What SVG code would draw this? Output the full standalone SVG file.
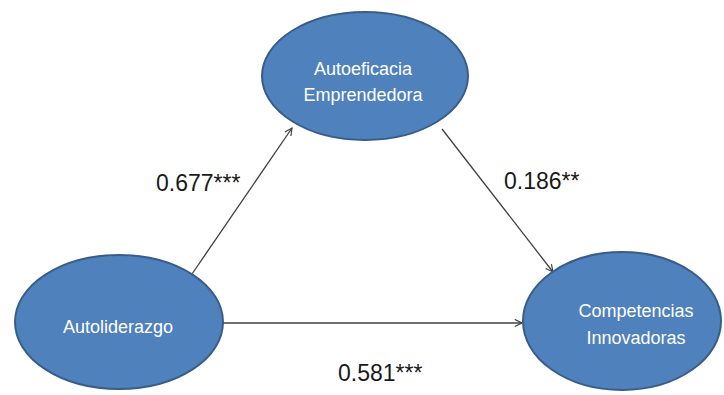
<svg xmlns="http://www.w3.org/2000/svg" width="724" height="395" viewBox="0 0 724 395">
<defs>
<style>
.node{fill:#4f81bd;stroke:#385d8a;stroke-width:2}
.nt{fill:#ffffff;font-family:"Liberation Sans",Arial,sans-serif;font-size:18px;text-anchor:middle}
.lbl{fill:#1a1a1a;font-family:"Liberation Sans",Arial,sans-serif;font-size:23px}
.edge{stroke:#404040;stroke-width:1.3;fill:none;marker-end:url(#arr)}
</style>
<marker id="arr" viewBox="0 0 10 10" refX="9" refY="5" markerWidth="9" markerHeight="9" markerUnits="userSpaceOnUse" orient="auto">
<path d="M1,1 L9,5 L1,9" fill="none" stroke="#404040" stroke-width="1.3"/>
</marker>
</defs>
<rect width="724" height="395" fill="#ffffff"/>
<g id="connectors">
<line class="edge" x1="192" y1="274" x2="292" y2="128"/>
<line class="edge" x1="442" y1="129" x2="553" y2="272"/>
<line class="edge" x1="223" y1="323" x2="522" y2="323"/>
</g>
<g id="autoeficacia">
<ellipse class="node" cx="365" cy="76" rx="103" ry="64"/>
<text class="nt" x="363" y="75">Autoeficacia</text>
<text class="nt" x="363" y="101">Emprendedora</text>
</g>
<g id="autoliderazgo">
<ellipse class="node" cx="119" cy="322" rx="104" ry="67"/>
<text class="nt" x="118" y="333">Autoliderazgo</text>
</g>
<g id="competencias">
<ellipse class="node" cx="622" cy="321" rx="99" ry="69"/>
<text class="nt" x="636" y="317">Competencias</text>
<text class="nt" x="636" y="344">Innovadoras</text>
</g>
<g id="labels">
<text class="lbl" x="156" y="191">0.677***</text>
<text class="lbl" x="504" y="189">0.186**</text>
<text class="lbl" x="338" y="381">0.581***</text>
</g>
</svg>
